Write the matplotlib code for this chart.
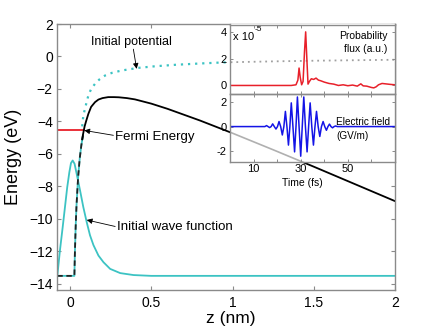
import matplotlib
matplotlib.use('Agg')
import matplotlib.pyplot as plt
from matplotlib.patches import Rectangle
from matplotlib.ticker import FixedLocator, FixedFormatter

plt.rcParams['font.family'] = ['Liberation Sans', 'DejaVu Sans']

# ---------------- data ----------------
# initial wave function (cyan)
wf_z = [-0.078, -0.062, -0.045, -0.031, -0.017, -0.004, 0.006, 0.0165, 0.028, 0.041,
        0.062, 0.082, 0.103, 0.123, 0.144, 0.175, 0.206, 0.247, 0.309, 0.391, 0.5, 2.0]
wf_E = [-13.5, -11.94, -10.5, -9.27, -8.04, -7.12, -6.56, -6.40, -6.6, -7.22,
        -8.25, -9.27, -10.2, -11.0, -11.6, -12.25, -12.66, -13.07, -13.33, -13.45, -13.5, -13.5]

# potential step near the surface (dashed)
step_z = [-0.078, 0.027, 0.03, 0.035, 0.04, 0.05, 0.06, 0.07, 0.08]
step_E = [-13.5, -13.5, -12.13, -10.44, -9.17, -7.42, -6.26, -5.45, -4.85]

# potential with field (black)
pot_z = [0.075, 0.08, 0.09, 0.1, 0.113, 0.13, 0.154, 0.175, 0.2, 0.235, 0.27, 0.3,
         0.35, 0.4, 0.5, 0.6, 0.8, 1.0, 1.25, 1.5, 1.75, 2.0]
pot_E = [-5.1, -4.8, -4.3, -3.95, -3.53, -3.1, -2.81, -2.65, -2.56, -2.5, -2.5, -2.51,
         -2.56, -2.64, -2.9, -3.22, -3.94, -4.72, -5.74, -6.78, -7.84, -8.9]

# initial potential (cyan dotted)
ini_z = [0.075, 0.082, 0.1, 0.113, 0.13, 0.154, 0.18, 0.216, 0.26, 0.319, 0.42, 0.525,
         0.65, 0.8, 0.93, 1.0, 1.25, 1.5, 1.75, 2.0]
ini_E = [-4.3, -3.63, -2.9, -2.4, -2.0, -1.68, -1.42, -1.17, -1.0, -0.86, -0.70, -0.60,
         -0.51, -0.43, -0.37, -0.35, -0.3, -0.26, -0.23, -0.2]

# Fermi level
fermi_z = [-0.08, 0.085]
fermi_E = [-4.5, -4.5]

# probability flux (red, x 1e-5)
flux_t = [0, 26, 28, 28.8, 29.3, 29.8, 30.4, 31.0, 31.6, 32.1, 32.6, 33.1, 33.7, 34.5,
          35.5, 36.5, 37.5, 38.5, 40, 42, 44, 46, 48, 50, 52, 54, 55.5, 56.5, 58, 60,
          61, 62, 63, 64.5, 66, 68, 70]
flux_v = [0, 0, 0.05, 0.4, 1.3, 0.6, 0.05, 0.3, 2.5, 4.0, 2.0, 0.1, 0.3, 0.5,
          0.45, 0.55, 0.4, 0.35, 0.25, 0.15, 0.1, 0.0, 0.05, -0.02, 0.03, -0.05, 0.12, -0.03, -0.05, -0.15,
          -0.18, -0.1, 0.05, 0.15, 0.12, 0.08, 0.05]

# electric field (blue, GV/m)
field_t = [0, 14.8, 15.5, 16.15, 16.8, 17.45, 18.1, 18.8, 19.5, 20.15, 20.8, 21.5, 22.2,
           22.85, 23.5, 24.15, 24.8, 25.4, 26.0, 26.7, 27.4, 28.0, 28.6, 29.3, 30.0,
           30.65, 31.3, 32.0, 32.7, 33.35, 34.0, 34.7, 35.4, 36.05, 36.7, 37.4, 38.1,
           38.8, 39.5, 40.2, 40.9, 41.55, 42.2, 42.85, 43.5, 44.15, 44.8, 45.5, 70]
field_v = [0, 0, 0.08, 0, -0.08, 0, 0.22, 0, -0.2, 0, 0.41, 0, -0.68,
           0, 1.23, 0, -1.5, 0, 1.92, 0, -2.05, 0, 2.4, 0, -2.4,
           0, 2.4, 0, -2.05, 0, 1.92, 0, -1.5, 0, 1.23, 0, -0.8,
           0, 0.41, 0, -0.3, 0, 0.2, 0, -0.1, 0, 0.05, 0, 0]

main_xticks = [0, 0.5, 1, 1.5, 2]
main_xlabels = ['0', '0.5', '1', '1.5', '2']
main_yticks = [2, 0, -2, -4, -6, -8, -10, -12, -14]
inset_xticks = [0, 10, 20, 30, 40, 50, 60, 70]
inset_xlabels = ['', '10', '', '30', '', '50', '', '']
flux_yticks = [0, 2, 4]
flux_ylabels = ['0', '2', '4']
field_yticks = [-2, 0, 2]
field_ylabels = ['-2', '0', '2']

# ---------------- styling ----------------
CYAN = '#3cc3c3'
SPINE = '#8a8a8a'

fig = plt.figure(figsize=(4.36, 3.28), dpi=100)
ax = fig.add_axes([57/436, 38/328, 338/436, 266/328])
ax.set_xlim(-0.08, 2.0)
ax.set_ylim(-14.37, 2.0)

ax.plot(wf_z, wf_E, color=CYAN, lw=1.3, zorder=2)
ax.plot(step_z, step_E, color=CYAN, lw=1.3, zorder=2)
ax.plot(step_z, step_E, color='#222222', lw=1.3, ls=(0, (3, 2)), zorder=2.1)
ax.plot(ini_z, ini_E, color=CYAN, lw=1.6, ls=(0, (1, 2.2)), zorder=2)
ax.plot(pot_z, pot_E, color='black', lw=1.3, zorder=2.2)
ax.plot(fermi_z, fermi_E, color='#e8202a', lw=1.3, zorder=2)

# white inset background inside the main axes, with the main curves showing through in grey
rect = Rectangle((0.988, -6.52), 1.1, 9.0, facecolor='white', edgecolor='none', zorder=3)
ax.add_patch(rect)
g1, = ax.plot(pot_z, pot_E, color='#b0b0b0', lw=1.2, zorder=3.5)
g2, = ax.plot(ini_z, ini_E, color='#a0a0a0', lw=1.3, ls=(0, (1, 2.2)), zorder=3.5)
g1.set_clip_path(rect)
g2.set_clip_path(rect)

ax.xaxis.set_major_locator(FixedLocator(main_xticks))
ax.xaxis.set_major_formatter(FixedFormatter(main_xlabels))
ax.set_yticks(main_yticks)
ax.tick_params(direction='in', top=True, right=True, length=3, width=0.8,
               color=SPINE, labelsize=10, pad=3)
ax.tick_params(axis='x', pad=4.5)
for s in ax.spines.values():
    s.set_color(SPINE)
    s.set_linewidth(1.0)

fig.text(14/436, 1 - 157/328, 'Energy (eV)', rotation=90, ha='center', va='center', fontsize=13)
fig.text(231/436, 1 - 318/328, 'z (nm)', ha='center', va='center', fontsize=12.5)

# annotations
ax.text(0.377, 0.92, 'Initial potential', ha='center', va='center', fontsize=9, zorder=5)
ax.annotate('', xy=(0.41, -0.76), xytext=(0.39, 0.45),
            arrowprops=dict(arrowstyle='-|>', color='black', lw=0.6, mutation_scale=8,
                            shrinkA=0, shrinkB=0), zorder=5)
ax.text(0.278, -4.98, 'Fermi Energy', ha='left', va='center', fontsize=9.5, zorder=5)
ax.annotate('', xy=(0.088, -4.55), xytext=(0.267, -4.85),
            arrowprops=dict(arrowstyle='-|>', color='black', lw=0.6, mutation_scale=8,
                            shrinkA=0, shrinkB=0), zorder=5)
ax.text(0.29, -10.5, 'Initial wave function', ha='left', va='center', fontsize=9.5, zorder=5)
ax.annotate('', xy=(0.103, -10.06), xytext=(0.278, -10.46),
            arrowprops=dict(arrowstyle='-|>', color='black', lw=0.6, mutation_scale=8,
                            shrinkA=0, shrinkB=0), zorder=5)

# ---------------- inset ----------------
axu = fig.add_axes([230/436, 1 - 93.5/328, 165/436, 69/328], facecolor='none')
axl = fig.add_axes([230/436, 1 - 162/328, 165/436, 68.5/328], facecolor='none')

axu.plot(flux_t, flux_v, color='#e8202a', lw=1.1)
axu.set_xlim(0, 70)
axu.set_ylim(-0.6, 4.55)
axl.plot(field_t, field_v, color='#1414e6', lw=1.1)
axl.set_xlim(0, 70)
axl.set_ylim(-2.87, 2.68)

for a in (axu, axl):
    a.xaxis.set_major_locator(FixedLocator(inset_xticks))
    a.tick_params(direction='in', top=True, right=True, length=2.5, width=0.7,
                  color=SPINE, labelsize=8, pad=2.5)
    for s in a.spines.values():
        s.set_color(SPINE)
        s.set_linewidth(1.0)
axu.xaxis.set_major_formatter(FixedFormatter([''] * len(inset_xticks)))
axl.xaxis.set_major_formatter(FixedFormatter(inset_xlabels))
axl.tick_params(axis='x', pad=1.5)
axu.yaxis.set_major_locator(FixedLocator(flux_yticks))
axu.yaxis.set_major_formatter(FixedFormatter(flux_ylabels))
axl.yaxis.set_major_locator(FixedLocator(field_yticks))
axl.yaxis.set_major_formatter(FixedFormatter(field_ylabels))

tk = dict(fontsize=7.5)
axu.text(0.018, 0.823, 'x 10', transform=axu.transAxes, ha='left', va='center', fontsize=8)
axu.text(0.150, 0.93, '-5', transform=axu.transAxes, ha='left', va='center', fontsize=6)
axu.text(0.955, 0.833, 'Probability', transform=axu.transAxes, ha='right', va='center', **tk)
axu.text(0.955, 0.645, 'flux (a.u.)', transform=axu.transAxes, ha='right', va='center', **tk)
axl.text(0.645, 0.584, 'Electric field', transform=axl.transAxes, ha='left', va='center', fontsize=7.2)
axl.text(0.645, 0.38, '(GV/m)', transform=axl.transAxes, ha='left', va='center', fontsize=7.2)
axl.text(0.436, -0.30, 'Time (fs)', transform=axl.transAxes, ha='center', va='center', **tk)

fig.savefig('out.png', dpi=100)
